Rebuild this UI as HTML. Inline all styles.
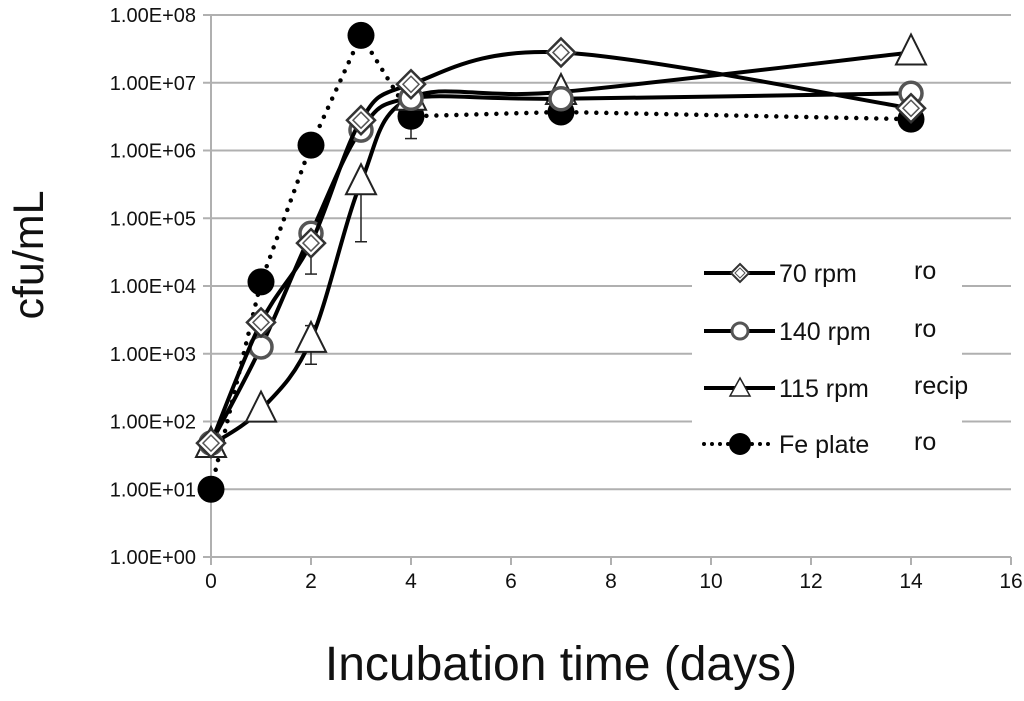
<!DOCTYPE html>
<html><head><meta charset="utf-8"><style>
body{margin:0;background:#fff;width:1024px;height:696px;overflow:hidden}
svg{font-family:"Liberation Sans",Arial,sans-serif}
</style></head><body>
<svg id="chart" width="1024" height="696"></svg>
<script>
const days=[0,1,2,3,4,7,14];
const rpm70=[48,2900,43000,2800000,9500000,28000000,4200000];
const rpm140=[48,1260,60000,2000000,5900000,5800000,7000000];
const rpm115=[45,150,1600,340000,6000000,7300000,28000000];
const fePlate=[10,11500,1200000,50000000,3200000,3700000,2900000];
const errBars=[[2,15000,80000],[2,700,2600],[3,45000,300000],[3,2000000,2500000],[4,1500000,3200000]];
const yTicks=["1.00E+00","1.00E+01","1.00E+02","1.00E+03","1.00E+04","1.00E+05","1.00E+06","1.00E+07","1.00E+08"];
const xTicks=[0,2,4,6,8,10,12,14,16];
const NS="http://www.w3.org/2000/svg";
const svg=document.getElementById('chart');
const X=d=>211+d*50;
const Y=v=>557-Math.log10(v)*67.75;
function mk(t,a,p){const e=document.createElementNS(NS,t);for(const k in a)e.setAttribute(k,a[k]);(p||svg).appendChild(e);return e;}
yTicks.forEach((t,i)=>{const y=557-i*67.75;
 const g=mk('line',{x1:203,x2:1011,y1:y,y2:y,stroke:'#b0b0b0','stroke-width':2});
 
 
 const tx=mk('text',{x:196,y:y+7,'text-anchor':'end','font-size':20,fill:'#111'});tx.textContent=t;
 
 
});
mk('line',{x1:211,x2:211,y1:15,y2:565,stroke:'#b0b0b0','stroke-width':2});
xTicks.forEach(d=>{const x=X(d);
 mk('line',{x1:x,x2:x,y1:557,y2:565,stroke:'#b0b0b0','stroke-width':2});
 const tx=mk('text',{x:x,y:588,'text-anchor':'middle','font-size':21,fill:'#111'});tx.textContent=d;
 
 
});
const xt=mk('text',{x:561,y:680,'text-anchor':'middle','font-size':48,fill:'#111'});xt.textContent='Incubation time (days)';


const yt=mk('text',{x:0,y:0,'text-anchor':'middle','font-size':43,fill:'#111',transform:'translate(43,255) rotate(-90)'});yt.textContent='cfu/mL';


errBars.forEach(b=>{const x=X(b[0]);
 const g=mk('g',{stroke:'#222','stroke-width':1.5});
 
 
 mk('line',{x1:x,x2:x,y1:Y(b[1]),y2:Y(b[2])},g);
 mk('line',{x1:x-6,x2:x+6,y1:Y(b[1]),y2:Y(b[1])},g);
 mk('line',{x1:x-6,x2:x+6,y1:Y(b[2]),y2:Y(b[2])},g);
});
function smooth(vals){const p=days.map((d,i)=>[X(d),Y(vals[i])]);let s='M'+p[0];
 for(let i=0;i<p.length-1;i++){const p0=p[i-1]||p[i],p1=p[i],p2=p[i+1],p3=p[i+2]||p2;
  const c1=[p1[0]+(p2[0]-p0[0])/6,p1[1]+(p2[1]-p0[1])/6],c2=[p2[0]-(p3[0]-p1[0])/6,p2[1]-(p3[1]-p1[1])/6];
  s+=' C'+c1+' '+c2+' '+p2;}return s;}
function marker(type,x,y,g){
 if(type==='d'){mk('polygon',{points:`${x},${y-14} ${x+14},${y} ${x},${y+14} ${x-14},${y}`,fill:'#fff',stroke:'#333','stroke-width':2.5},g);
  mk('polygon',{points:`${x},${y-8} ${x+8},${y} ${x},${y+8} ${x-8},${y}`,fill:'#fff',stroke:'#555','stroke-width':1.5},g);}
 else if(type==='o'){mk('circle',{cx:x,cy:y,r:11,fill:'#fff',stroke:'#555','stroke-width':3.5},g);}
 else if(type==='t'){mk('polygon',{points:`${x},${y-18} ${x+15},${y+12} ${x-15},${y+12}`,fill:'#fff',stroke:'#222','stroke-width':2},g);}
 else {mk('circle',{cx:x,cy:y,r:13.5,fill:'#000'},g);}
}
const series=[['fe-plate',fePlate,'f',true],['rpm-115',rpm115,'t',false],['rpm-140',rpm140,'o',false],['rpm-70',rpm70,'d',false]];
series.forEach(s=>{const g=mk('g',{});
 
 
 if(s[3]){mk('polyline',{points:days.map((d,i)=>X(d)+','+Y(s[1][i])).join(' '),fill:'none',stroke:'#000','stroke-width':4.5,'stroke-dasharray':'0 10','stroke-linecap':'round'},g);}
 else mk('path',{d:smooth(s[1]),fill:'none',stroke:'#000','stroke-width':4},g);
 days.forEach((d,i)=>marker(s[2],X(d),Y(s[1][i]),g));
});
const lg=mk('g',{});


mk('rect',{x:692,y:258,width:270,height:210,fill:'#fff'},lg);
const L=[['70 rpm','ro','d',273],['140 rpm','ro','o',331],['115 rpm','recip','t',388],['Fe plate','ro','f',444]];
L.forEach(l=>{const e=mk('g',{},lg);
 
 
 if(l[2]==='f')mk('line',{x1:704,x2:775,y1:l[3],y2:l[3],stroke:'#000','stroke-width':4,'stroke-dasharray':'0 8','stroke-linecap':'round'},e);
 else mk('line',{x1:704,x2:775,y1:l[3],y2:l[3],stroke:'#000','stroke-width':4},e);
 if(l[2]==='f')mk('circle',{cx:740,cy:l[3],r:11,fill:'#000'},e);
 else if(l[2]==='t')mk('polygon',{points:`740,${l[3]-10} 750,${l[3]+8} 730,${l[3]+8}`,fill:'#fff',stroke:'#222','stroke-width':1.5},e);
 else if(l[2]==='o')mk('circle',{cx:740,cy:l[3],r:8,fill:'#fff',stroke:'#555','stroke-width':3},e);
 else {mk('polygon',{points:`740,${l[3]-9} 749,${l[3]} 740,${l[3]+9} 731,${l[3]}`,fill:'#fff',stroke:'#333','stroke-width':2},e);mk('polygon',{points:`740,${l[3]-5} 745,${l[3]} 740,${l[3]+5} 735,${l[3]}`,fill:'#fff',stroke:'#555','stroke-width':1},e);}
 const t1=mk('text',{x:779,y:l[3]+9,'font-size':25,fill:'#111'},e);t1.textContent=l[0];
 const t2=mk('text',{x:914,y:l[3]+6,'font-size':25,fill:'#111'},e);t2.textContent=l[1];
});
</script>
</body></html>
